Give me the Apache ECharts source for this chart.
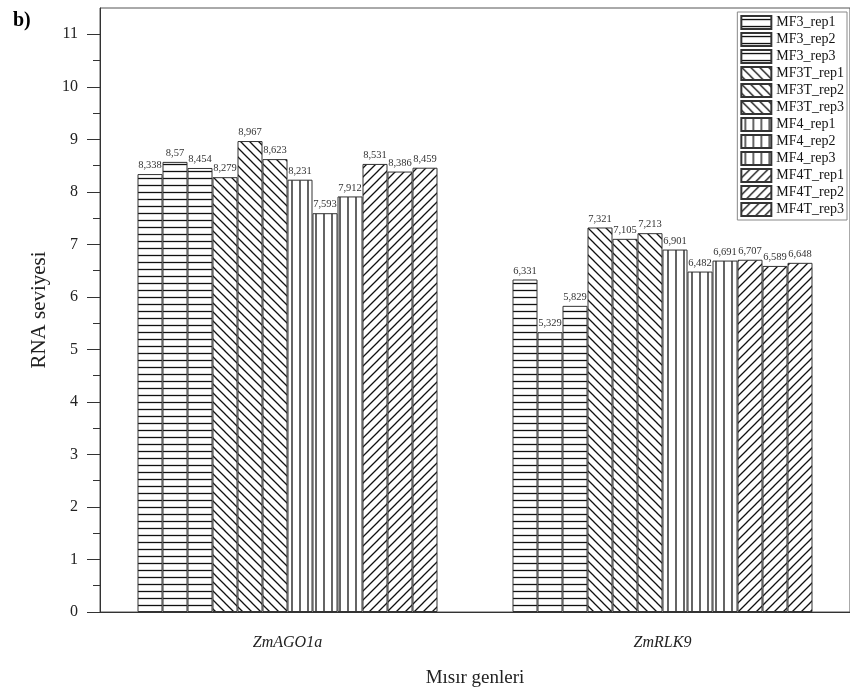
<!DOCTYPE html>
<html>
<head>
<meta charset="utf-8">
<script src="https://cdn.jsdelivr.net/npm/echarts@6/dist/echarts.min.js"></script>
<style>
  html, body { margin: 0; padding: 0; background: #fff; }
  #chart { width: 850px; height: 693px; }
</style>
</head>
<body>
<div id="chart"></div>
<script>
// data
const genes = ['ZmAGO1a', 'ZmRLK9'];
const seriesNames = [
  'MF3_rep1', 'MF3_rep2', 'MF3_rep3',
  'MF3T_rep1', 'MF3T_rep2', 'MF3T_rep3',
  'MF4_rep1', 'MF4_rep2', 'MF4_rep3',
  'MF4T_rep1', 'MF4T_rep2', 'MF4T_rep3'
];
// one row per series: [ZmAGO1a, ZmRLK9]
const rnaValues = [
  [8.338, 6.331],
  [8.57, 5.329],
  [8.454, 5.829],
  [8.279, 7.321],
  [8.967, 7.105],
  [8.623, 7.213],
  [8.231, 6.901],
  [7.593, 6.482],
  [7.912, 6.691],
  [8.531, 6.707],
  [8.386, 6.589],
  [8.459, 6.648]
];
const patternKinds = ['h', 'h', 'h', 'bs', 'bs', 'bs', 'v', 'v', 'v', 'fs', 'fs', 'fs'];
const majorTicks = [0, 1, 2, 3, 4, 5, 6, 7, 8, 9, 10, 11];
const minorTicks = [0.5, 1.5, 2.5, 3.5, 4.5, 5.5, 6.5, 7.5, 8.5, 9.5, 10.5];

const FONT = '"Liberation Serif", "Times New Roman", serif';

// hatch fills drawn on small canvases
function makePattern(kind) {
  const c = document.createElement('canvas');
  const ctx = c.getContext('2d');
  let s = 9;
  if (kind === 'h') { c.width = 8; c.height = 7; }
  else if (kind === 'v') { c.width = 8; c.height = 8; }
  else { c.width = s; c.height = s; }
  ctx.fillStyle = '#fff';
  ctx.fillRect(0, 0, c.width, c.height);
  ctx.strokeStyle = '#111';
  ctx.lineWidth = 1.3;
  ctx.beginPath();
  if (kind === 'h') {
    ctx.moveTo(0, 3.5); ctx.lineTo(c.width, 3.5);
  } else if (kind === 'v') {
    ctx.moveTo(4, 0); ctx.lineTo(4, c.height);
  } else if (kind === 'bs') {
    ctx.moveTo(-1, -1); ctx.lineTo(s + 1, s + 1);
    ctx.moveTo(-1, s - 1); ctx.lineTo(1, s + 1);
    ctx.moveTo(s - 1, -1); ctx.lineTo(s + 1, 1);
  } else {
    ctx.moveTo(-1, s + 1); ctx.lineTo(s + 1, -1);
    ctx.moveTo(-1, 1); ctx.lineTo(1, -1);
    ctx.moveTo(s - 1, s + 1); ctx.lineTo(s + 1, s - 1);
  }
  ctx.stroke();
  return c;
}

const series = seriesNames.map((name, i) => ({
  name: name,
  type: 'bar',
  barGap: '0%',
  barCategoryGap: '20%',
  data: rnaValues[i],
  itemStyle: {
    color: { image: makePattern(patternKinds[i]), repeat: 'repeat' },
    borderColor: '#333',
    borderWidth: 1
  },
  label: {
    show: true,
    position: 'top',
    distance: 3,
    fontFamily: FONT,
    fontSize: 10.5,
    color: '#333',
    formatter: p => String(p.value).replace('.', ',')
  }
}));

const chart = echarts.init(document.getElementById('chart'));
chart.setOption({
  animation: false,
  backgroundColor: '#fff',
  title: {
    text: 'b)',
    left: 8,
    top: 6,
    textStyle: { fontFamily: FONT, fontSize: 20, fontWeight: 'bold', color: '#000' }
  },
  legend: {
    orient: 'vertical',
    right: 3,
    top: 12,
    icon: 'rect',
    itemWidth: 30,
    itemHeight: 13,
    itemGap: 2,
    padding: [3, 3, 3, 3],
    borderColor: '#888',
    borderWidth: 1,
    data: seriesNames,
    textStyle: { fontFamily: FONT, fontSize: 14, lineHeight: 14, color: '#111' }
  },
  grid: {
    left: 100,
    right: -6,
    top: 8,
    bottom: 80,
    show: true,
    borderColor: '#555',
    borderWidth: 1
  },
  xAxis: {
    type: 'category',
    data: genes,
    name: 'Mısır genleri',
    nameLocation: 'middle',
    nameGap: 57,
    nameTextStyle: { fontFamily: FONT, fontSize: 19, color: '#222' },
    axisLine: { lineStyle: { color: '#333' } },
    axisTick: { alignWithLabel: true, length: 12, lineStyle: { color: '#333' } },
    axisLabel: { fontFamily: FONT, fontSize: 16, fontStyle: 'italic', color: '#222', margin: 23 }
  },
  yAxis: [{
    type: 'value',
    min: 0,
    max: 11.5,
    interval: 1,
    name: 'RNA seviyesi',
    nameLocation: 'middle',
    nameGap: 50,
    nameTextStyle: { fontFamily: FONT, fontSize: 21, color: '#222' },
    splitLine: { show: false },
    axisLine: { show: true, lineStyle: { color: '#333' } },
    axisTick: { show: true, length: 13, customValues: majorTicks, lineStyle: { color: '#333' } },
    axisLabel: {
      fontFamily: FONT, fontSize: 16, color: '#222', margin: 22,
      customValues: majorTicks
    }
  }, {
    // minor ticks only
    type: 'value',
    position: 'left',
    min: 0,
    max: 11.5,
    interval: 0.5,
    splitLine: { show: false },
    axisLine: { show: false },
    axisLabel: { show: false },
    axisTick: { show: true, length: 7, customValues: minorTicks, lineStyle: { color: '#333' } }
  }],
  series: series
});
</script>
</body>
</html>
